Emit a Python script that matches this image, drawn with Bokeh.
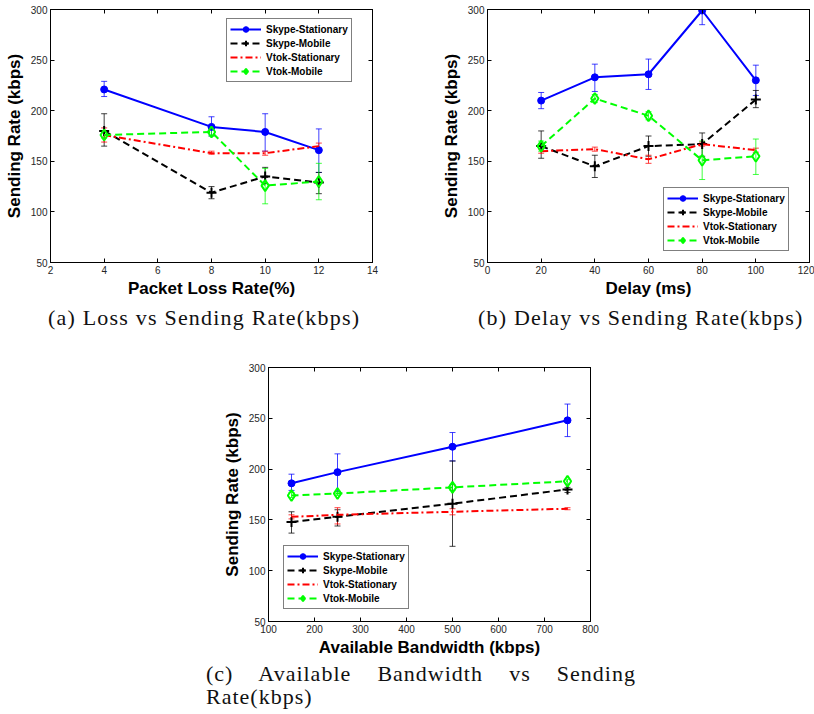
from bokeh.plotting import figure
from bokeh.models import (Range1d, FixedTicker, LinearAxis, Whisker, TeeHead,
                          ColumnDataSource, Legend, LegendItem, Div, Spacer)
from bokeh.layouts import row, column
from bokeh.embed import file_html
from bokeh.resources import INLINE

SERIES = ["Skype-Stationary", "Skype-Mobile", "Vtok-Stationary", "Vtok-Mobile"]
Y_TICKS = [50, 100, 150, 200, 250, 300]

# (a) Packet loss
loss_x = [4, 8, 10, 12]
loss_x_ticks = [2, 4, 6, 8, 10, 12, 14]
loss_skype_stat = [221, 184, 179, 161]
loss_skype_stat_lo = [214, 175, 160, 139]
loss_skype_stat_hi = [229, 194, 197, 182]
loss_skype_mob = [180, 119, 135, 129]
loss_skype_mob_lo = [165, 113, 128, 118]
loss_skype_mob_hi = [197, 125, 144, 139]
loss_vtok_stat = [176, 158, 158, 165]
loss_vtok_stat_lo = [169, 157, 156, 162]
loss_vtok_stat_hi = [183, 160, 160, 168]
loss_vtok_mob = [176, 179, 126, 130]
loss_vtok_mob_lo = [173, 175, 108, 112]
loss_vtok_mob_hi = [179, 183, 143, 148]

# (b) Delay
delay_x = [20, 40, 60, 80, 100]
delay_x_ticks = [0, 20, 40, 60, 80, 100, 120]
delay_skype_stat = [210, 233, 236, 299, 230]
delay_skype_stat_lo = [202, 219, 221, 285, 215]
delay_skype_stat_hi = [218, 246, 251, 300, 245]
delay_skype_mob = [165, 145, 165, 167, 211]
delay_skype_mob_lo = [153, 134, 155, 155, 203]
delay_skype_mob_hi = [180, 156, 175, 178, 220]
delay_vtok_stat = [160, 162, 152, 167, 161]
delay_vtok_stat_lo = [158, 160, 148, 165, 159]
delay_vtok_stat_hi = [162, 164, 156, 169, 163]
delay_vtok_mob = [165, 212, 195, 151, 155]
delay_vtok_mob_lo = [160, 208, 191, 132, 137]
delay_vtok_mob_hi = [170, 216, 199, 170, 172]

# (c) Available bandwidth
bw_x = [150, 250, 500, 750]
bw_x_ticks = [100, 200, 300, 400, 500, 600, 700, 800]
bw_skype_stat = [186, 197, 222, 248]
bw_skype_stat_lo = [179, 178, 208, 232]
bw_skype_stat_hi = [195, 215, 236, 264]
bw_skype_mob = [148, 153, 166, 180]
bw_skype_mob_lo = [137, 144, 124, 177]
bw_skype_mob_hi = [158, 160, 208, 182]
bw_vtok_stat = [153, 155, 158, 161]
bw_vtok_stat_lo = [151, 146, 155, 160]
bw_vtok_stat_hi = [155, 162, 161, 162]
bw_vtok_mob = [174, 176, 182, 188]
bw_vtok_mob_lo = [172, 174, 179, 186]
bw_vtok_mob_hi = [177, 178, 185, 190]

STYLES = [
    dict(color="#0000ff", dash="solid", marker="circle", size=7, fill="#0000ff", mlw=1),
    dict(color="#000000", dash="7 4", marker="cross", size=10, fill=None, mlw=2),
    dict(color="#ff0000", dash="7 3 2 3", marker=None, size=0, fill=None, mlw=1),
    dict(color="#00ff00", dash="7 4", marker="diamond", size=11, fill=None, mlw=2),
]

SANS = "Liberation Sans"


def style_axis(ax, ticks, show_labels=True, label_standoff=2):
    ax.ticker = FixedTicker(ticks=ticks)
    ax.major_tick_in = 4
    ax.major_tick_out = 0
    ax.minor_tick_line_color = None
    ax.axis_line_color = "black"
    ax.major_tick_line_color = "black"
    if show_labels:
        ax.major_label_text_font = SANS
        ax.major_label_text_font_size = "10px"
        ax.major_label_text_color = "#262626"
        ax.major_label_standoff = 3
        ax.axis_label_text_font = SANS
        ax.axis_label_text_font_size = "17px"
        ax.axis_label_text_font_style = "bold"
        ax.axis_label_text_color = "black"
        ax.axis_label_standoff = label_standoff
    else:
        ax.major_label_text_font_size = "0px"
        ax.major_label_text_color = None
        ax.major_label_standoff = 0


def make_fig(xr, xticks, xlabel, width, height, borders, xs, data, legend_loc):
    p = figure(width=width, height=height, x_range=Range1d(*xr), y_range=Range1d(50, 300),
               output_backend="svg", toolbar_location=None,
               min_border_left=borders[0], min_border_right=borders[1],
               min_border_top=borders[2], min_border_bottom=borders[3])
    p.xgrid.visible = False
    p.ygrid.visible = False
    p.outline_line_color = "black"
    p.outline_line_width = 1
    p.background_fill_color = "white"
    p.border_fill_color = "white"
    p.xaxis.axis_label = xlabel
    p.yaxis.axis_label = "Sending Rate (kbps)"
    style_axis(p.xaxis[0], xticks, label_standoff=2)
    style_axis(p.yaxis[0], Y_TICKS, label_standoff=4)
    top = LinearAxis()
    style_axis(top, xticks, show_labels=False)
    p.add_layout(top, "above")
    right = LinearAxis()
    style_axis(right, Y_TICKS, show_labels=False)
    p.add_layout(right, "right")

    items = []
    for name, (y, lo, hi), st in zip(SERIES, data, STYLES):
        src = ColumnDataSource(dict(x=xs, y=y, lo=lo, hi=hi))
        c = st["color"]
        w = Whisker(base="x", upper="hi", lower="lo", source=src,
                    line_color=c, line_width=1, line_alpha=0.75,
                    upper_head=TeeHead(size=6, line_color=c, line_width=1, line_alpha=0.75),
                    lower_head=TeeHead(size=6, line_color=c, line_width=1, line_alpha=0.75))
        p.add_layout(w)
        lr = p.line("x", "y", source=src, line_color=c, line_width=2, line_dash=st["dash"])
        rs = [lr]
        if st["marker"]:
            mr = p.scatter("x", "y", source=src, marker=st["marker"], size=st["size"],
                           line_color=c, line_width=st["mlw"], fill_color=st["fill"])
            rs.append(mr)
        items.append(LegendItem(label=name, renderers=rs))

    legend = Legend(items=items, location=legend_loc, border_line_color="black",
                    border_line_width=1, background_fill_color="white",
                    background_fill_alpha=1, padding=3, spacing=0, margin=0,
                    label_height=14, glyph_height=14, glyph_width=31, label_standoff=5,
                    label_text_font=SANS, label_text_font_style="bold",
                    label_text_font_size="10px", label_text_color="black")
    p.add_layout(legend)
    return p


fa = make_fig((2, 14), loss_x_ticks, "Packet Loss Rate(%)", 410, 304, (50, 38, 9, 42), loss_x,
              [(loss_skype_stat, loss_skype_stat_lo, loss_skype_stat_hi),
               (loss_skype_mob, loss_skype_mob_lo, loss_skype_mob_hi),
               (loss_vtok_stat, loss_vtok_stat_lo, loss_vtok_stat_hi),
               (loss_vtok_mob, loss_vtok_mob_lo, loss_vtok_mob_hi)],
              (176, 180))

fb = make_fig((0, 120), delay_x_ticks, "Delay (ms)", 404, 304, (77, 5, 9, 42), delay_x,
              [(delay_skype_stat, delay_skype_stat_lo, delay_skype_stat_hi),
               (delay_skype_mob, delay_skype_mob_lo, delay_skype_mob_hi),
               (delay_vtok_stat, delay_vtok_stat_lo, delay_vtok_stat_hi),
               (delay_vtok_mob, delay_vtok_mob_lo, delay_vtok_mob_hi)],
              (176, 11))

fc = make_fig((100, 800), bw_x_ticks, "Available Bandwidth (kbps)", 398, 326, (62, 14, 31, 41), bw_x,
              [(bw_skype_stat, bw_skype_stat_lo, bw_skype_stat_hi),
               (bw_skype_mob, bw_skype_mob_lo, bw_skype_mob_hi),
               (bw_vtok_stat, bw_vtok_stat_lo, bw_vtok_stat_hi),
               (bw_vtok_mob, bw_vtok_mob_lo, bw_vtok_mob_hi)],
              (15, 12))

SERIF = "font-family:'Liberation Serif',serif;font-size:22px;letter-spacing:1.2px;color:#111;"

cap_a = Div(text=f'<div style="{SERIF}line-height:26px;padding-left:48px;padding-top:1px;white-space:nowrap;">'
                 '(a) Loss vs Sending Rate(kbps)</div>', width=410, height=32, margin=0)
cap_b = Div(text=f'<div style="{SERIF}line-height:26px;padding-left:68px;padding-top:1px;white-space:nowrap;">'
                 '(b) Delay vs Sending Rate(kbps)</div>', width=404, height=32, margin=0)
cap_c = Div(text=f'<div style="font-family:\'Liberation Serif\',serif;font-size:22px;letter-spacing:1px;color:#111;'
                 'line-height:23px;text-align:justify;width:430px;">'
                 '(c) Available Bandwidth vs Sending Rate(kbps)</div>', width=430, height=46, margin=0)

for f in (fa, fb, fc):
    f.margin = 0

layout = column(
    row(column(fa, cap_a, margin=0), column(fb, cap_b, margin=0), margin=0),
    row(Spacer(width=206, height=10, margin=0), column(fc, cap_c, margin=0), margin=0),
    margin=0,
)

open("out.html", "w").write(file_html(layout, INLINE))
